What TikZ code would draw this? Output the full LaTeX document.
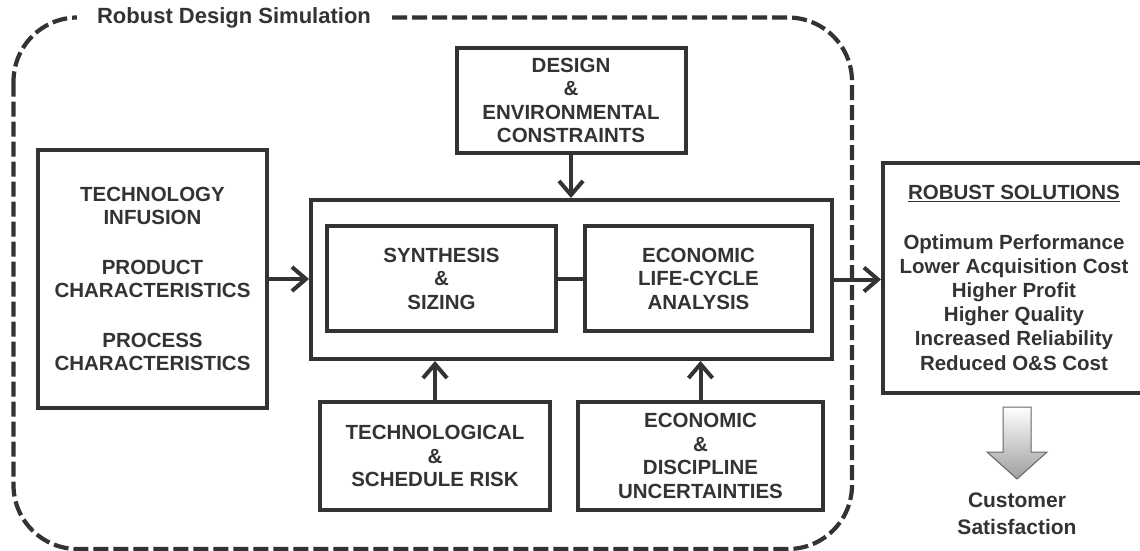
\documentclass[tikz,border=0pt]{standalone}
\usepackage{fontspec}
\setmainfont{Liberation Sans}
\usetikzlibrary{arrows.meta}
\definecolor{ink}{HTML}{333333}
\begin{document}
\begin{tikzpicture}[x=1pt,y=-1pt,
  box/.style={draw=ink, line width=4pt, text=ink, align=center, inner sep=0pt,
    font=\fontsize{20.5}{23.5}\selectfont\bfseries},
  conn/.style={draw=ink, line width=4pt},
  arr/.style={conn, -{Straight Barb[length=14pt,width=24pt]}},
  plaintext/.style={text=ink, align=center, inner sep=0pt},
]
\useasboundingbox (0,0) rectangle (1140,551);
% dashed frame
\draw[ink, line width=4.2pt, dash pattern=on 15pt off 5pt, rounded corners=64pt]
  (13.5,17.5) rectangle (852,549);
\node[plaintext, fill=white, inner xsep=20pt, inner ysep=5pt,
  font=\fontsize{22}{24}\selectfont\bfseries] (title) at (234,17.5) {Robust Design Simulation};

% boxes
\node[box, minimum width=229pt, minimum height=258pt] (left) at (152.5,279)
  {TECHNOLOGY\\INFUSION\\[26pt]PRODUCT\\CHARACTERISTICS\\[26pt]PROCESS\\CHARACTERISTICS};
\node[box, minimum width=229pt, minimum height=105pt] (design) at (571,100.5)
  {DESIGN\\\&\\ENVIRONMENTAL\\CONSTRAINTS};
\node[box, minimum width=521pt, minimum height=159pt] (outer) at (571.5,279.5) {};
\node[box, minimum width=229pt, minimum height=105pt] (synth) at (441.5,278.5)
  {SYNTHESIS\\\&\\SIZING};
\node[box, minimum width=227pt, minimum height=105pt] (econ) at (698.5,278.5)
  {ECONOMIC\\LIFE-CYCLE\\ANALYSIS};
\node[box, minimum width=230pt, minimum height=108pt] (tech) at (435,456)
  {TECHNOLOGICAL\\\&\\SCHEDULE RISK};
\node[box, minimum width=245pt, minimum height=108pt] (unc) at (700.5,456)
  {ECONOMIC\\\&\\DISCIPLINE\\UNCERTAINTIES};
\node[box, minimum width=262pt, minimum height=230pt,
  font=\fontsize{20.5}{24.2}\selectfont\bfseries] (robust) at (1014,278)
  {\underline{ROBUST SOLUTIONS}\\[25pt]Optimum Performance\\Lower Acquisition Cost\\Higher Profit\\Higher Quality\\Increased Reliability\\Reduced O\&S Cost};

% connectors
\draw[arr] (left.east) -- (left.east -| outer.west);
\draw[arr] (design.south) -- (design.south |- outer.north);
\draw[arr] (tech.north) -- (tech.north |- outer.south);
\draw[arr] (unc.north) -- (unc.north |- outer.south);
\draw[conn] (synth.east) -- (econ.west);
\draw[arr] (outer.east) -- (outer.east -| robust.west);

% block arrow
\shade[top color=white, bottom color=black!38, draw=black!60, line width=1pt]
  (1003,407) -- (1031,407) -- (1031,452) -- (1047,452) -- (1017,479)
  -- (987,452) -- (1003,452) -- cycle;
\node[plaintext, font=\fontsize{21}{27}\selectfont\bfseries] (cust) at (1017,513.5)
  {Customer\\Satisfaction};
\end{tikzpicture}
\end{document}
